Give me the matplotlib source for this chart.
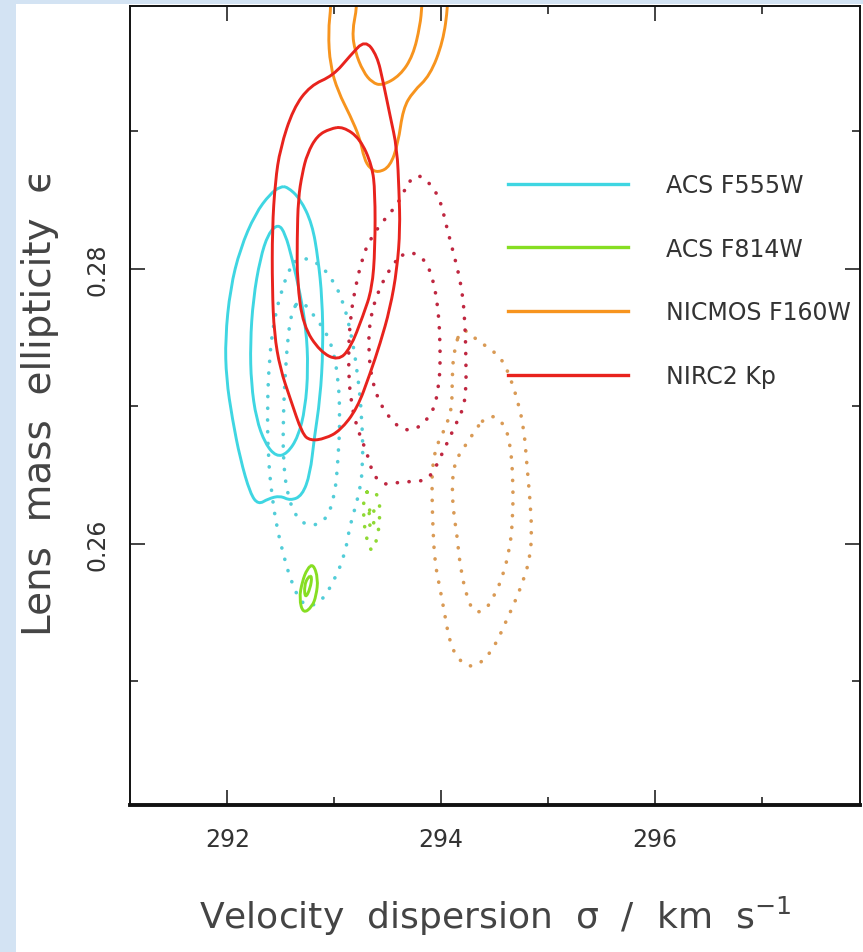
import numpy as np
import matplotlib
matplotlib.use("Agg")
import matplotlib.pyplot as plt
from matplotlib.lines import Line2D
from matplotlib.patches import Rectangle, PathPatch
from matplotlib.path import Path

# contour outlines: sigma (km/s), ellipticity
# ACS F555W
f555_solid_outer_s = [292.561, 292.682, 292.794, 292.850, 292.888, 292.897, 292.869, 292.813, 292.776, 292.701,
                      292.589, 292.495, 292.383, 292.290, 292.215, 292.121, 292.047, 291.991, 291.981, 292.028,
                      292.121, 292.262, 292.402, 292.495]
f555_solid_outer_e = [0.28596, 0.28509, 0.28327, 0.28073, 0.27782, 0.27418, 0.27055, 0.26764, 0.26509, 0.26349,
                      0.26313, 0.26349, 0.26327, 0.26284, 0.26364, 0.26618, 0.26909, 0.27200, 0.27491, 0.27855,
                      0.28145, 0.28400, 0.28545, 0.28596]
f555_solid_inner_s = [292.477, 292.542, 292.607, 292.682, 292.738, 292.757, 292.729, 292.664, 292.561, 292.458,
                      292.355, 292.271, 292.224, 292.215, 292.243, 292.308, 292.383]
f555_solid_inner_e = [0.28327, 0.28255, 0.28073, 0.27818, 0.27564, 0.27273, 0.26982, 0.26778, 0.26655, 0.26633,
                      0.26727, 0.26909, 0.27164, 0.27455, 0.27782, 0.28073, 0.28255]
f555_dot_outer_s = [292.682, 292.850, 292.981, 293.075, 293.150, 293.215, 293.262, 293.271, 293.224, 293.150,
                    293.103, 293.009, 292.888, 292.776, 292.682, 292.589, 292.523, 292.467, 292.421, 292.383,
                    292.374, 292.393, 292.439, 292.514, 292.589]
f555_dot_outer_e = [0.28087, 0.28044, 0.27927, 0.27782, 0.27564, 0.27273, 0.26909, 0.26545, 0.26327, 0.26145,
                    0.25927, 0.25745, 0.25585, 0.25542, 0.25578, 0.25745, 0.25927, 0.26109, 0.26327, 0.26618,
                    0.26982, 0.27345, 0.27636, 0.27855, 0.28015]
f555_dot_inner_s = [292.682, 292.822, 292.963, 293.037, 293.056, 293.037, 293.009, 292.935, 292.804, 292.664,
                    292.570, 292.523, 292.523, 292.542, 292.570, 292.607]
f555_dot_inner_e = [0.27782, 0.27651, 0.27491, 0.27236, 0.26909, 0.26618, 0.26364, 0.26182, 0.26124, 0.26167,
                    0.26327, 0.26582, 0.26909, 0.27236, 0.27527, 0.27695]

# ACS F814W
f814_solid_outer_s = [292.804, 292.850, 292.832, 292.794, 292.710, 292.673, 292.701, 292.748]
f814_solid_outer_e = [0.25855, 0.25745, 0.25622, 0.25542, 0.25491, 0.25600, 0.25724, 0.25818]
f814_solid_inner_s = [292.794, 292.776, 292.729, 292.720, 292.757]
f814_solid_inner_e = [0.25767, 0.25673, 0.25600, 0.25695, 0.25760]
f814_dot_outer_s = [293.336, 293.421, 293.430, 293.402, 293.355, 293.299, 293.271, 293.280]
f814_dot_outer_e = [0.26400, 0.26349, 0.26182, 0.26036, 0.25927, 0.26036, 0.26218, 0.26349]
f814_dot_inner_s = [293.346, 293.383, 293.355, 293.318]
f814_dot_inner_e = [0.26305, 0.26218, 0.26073, 0.26182]

# NICMOS F160W (solid ones run off the top)
f160_solid_outer_s = [292.972, 292.972, 292.944, 292.963, 293.037, 293.150, 293.243, 293.280, 293.336, 293.411,
                      293.523, 293.598, 293.645, 293.738, 293.897, 294.019, 294.065, 294.084, 293.523]
f160_solid_outer_e = [0.30255, 0.29913, 0.29724, 0.29476, 0.29287, 0.29113, 0.28945, 0.28800, 0.28727, 0.28698,
                      0.28742, 0.28909, 0.29164, 0.29287, 0.29404, 0.29651, 0.29913, 0.30255, 0.30545]
f160_solid_inner_s = [293.224, 293.215, 293.168, 293.196, 293.271, 293.355, 293.449, 293.617, 293.738, 293.804,
                      293.822, 293.841]
f160_solid_inner_e = [0.30182, 0.29905, 0.29724, 0.29578, 0.29433, 0.29353, 0.29331, 0.29404, 0.29549, 0.29767,
                      0.29913, 0.30182]
f160_dot_outer_s = [294.196, 294.318, 294.458, 294.570, 294.645, 294.720, 294.776, 294.804, 294.832, 294.850,
                    294.832, 294.766, 294.692, 294.598, 294.523, 294.439, 294.346, 294.252, 294.159, 294.084,
                    294.037, 293.991, 293.944, 293.925, 293.916, 293.916, 293.953, 294.037, 294.103, 294.103,
                    294.121]
f160_dot_outer_e = [0.27578, 0.27491, 0.27418, 0.27345, 0.27215, 0.27033, 0.26836, 0.26567, 0.26327, 0.26087,
                    0.25891, 0.25724, 0.25578, 0.25418, 0.25287, 0.25185, 0.25120, 0.25105, 0.25164, 0.25273,
                    0.25476, 0.25673, 0.25855, 0.26087, 0.26327, 0.26545, 0.26705, 0.26836, 0.26982, 0.27200,
                    0.27418]
f160_dot_inner_s = [294.430, 294.523, 294.598, 294.645, 294.673, 294.673, 294.645, 294.570, 294.505, 294.430,
                    294.318, 294.243, 294.178, 294.150, 294.112, 294.103, 294.131, 294.206, 294.271, 294.346]
f160_dot_inner_e = [0.26924, 0.26924, 0.26851, 0.26742, 0.26495, 0.26204, 0.25964, 0.25745, 0.25636, 0.25527,
                    0.25491, 0.25600, 0.25840, 0.26058, 0.26255, 0.26451, 0.26596, 0.26691, 0.26764, 0.26858]

# NIRC2 Kp
kp_solid_outer_s = [293.290, 293.402, 293.458, 293.523, 293.589, 293.607, 293.617, 293.589, 293.523, 293.430,
                    293.336, 293.215, 293.056, 292.916, 292.776, 292.701, 292.589, 292.495, 292.439, 292.421,
                    292.421, 292.449, 292.495, 292.617, 292.776, 292.991, 293.150]
kp_solid_outer_e = [0.29665, 0.29549, 0.29360, 0.29113, 0.28873, 0.28560, 0.28291, 0.28000, 0.27709, 0.27455,
                    0.27236, 0.26982, 0.26822, 0.26764, 0.26749, 0.26800, 0.27055, 0.27273, 0.27527, 0.27855,
                    0.28291, 0.28633, 0.28873, 0.29164, 0.29331, 0.29404, 0.29549]
kp_solid_inner_s = [293.084, 293.243, 293.355, 293.383, 293.383, 293.355, 293.271, 293.150, 293.037, 292.869,
                    292.710, 292.654, 292.654, 292.664, 292.701, 292.748, 292.841, 292.963]
kp_solid_inner_e = [0.29033, 0.28945, 0.28749, 0.28560, 0.28145, 0.27855, 0.27658, 0.27418, 0.27331, 0.27396,
                    0.27585, 0.27905, 0.28218, 0.28509, 0.28691, 0.28836, 0.28967, 0.29018]
kp_dot_outer_s = [293.757, 293.879, 293.991, 294.056, 294.131, 294.196, 294.224, 294.234, 294.234, 294.206,
                  294.150, 294.084, 294.019, 293.897, 293.776, 293.617, 293.477, 293.364, 293.318, 293.215,
                  293.150, 293.131, 293.150, 293.196, 293.262, 293.336, 293.477, 293.598, 293.664]
kp_dot_outer_e = [0.28691, 0.28640, 0.28509, 0.28291, 0.28073, 0.27855, 0.27615, 0.27324, 0.27105, 0.26982,
                  0.26887, 0.26778, 0.26669, 0.26473, 0.26451, 0.26451, 0.26422, 0.26495, 0.26640, 0.26836,
                  0.27055, 0.27345, 0.27636, 0.27855, 0.28073, 0.28218, 0.28364, 0.28473, 0.28582]
kp_dot_inner_s = [293.692, 293.804, 293.879, 293.935, 293.972, 293.991, 293.991, 293.972, 293.944, 293.879,
                  293.776, 293.645, 293.523, 293.430, 293.355, 293.318, 293.336, 293.402, 293.495, 293.589]
kp_dot_inner_e = [0.28124, 0.28095, 0.28022, 0.27891, 0.27709, 0.27491, 0.27251, 0.27127, 0.27004, 0.26909,
                  0.26836, 0.26822, 0.26909, 0.27018, 0.27178, 0.27418, 0.27636, 0.27818, 0.27964, 0.28073]

labels = ["ACS F555W", "ACS F814W", "NICMOS F160W", "NIRC2 Kp"]
colors = ["#3fd6e2", "#86de22", "#f7941e", "#e8231d"]
dot_colors = ["#52cdd8", "#8fd934", "#d99a55", "#bf2740"]

x_ticks = [292, 294, 296]
y_ticks = [0.26, 0.28]


def smooth_loop(s, e):
    # closed quadratic bezier loop: read points are control points, midpoints are anchors
    pts = np.column_stack([s, e])
    mids = (pts + np.roll(pts, -1, axis=0)) / 2
    verts = [mids[-1]]
    codes = [Path.MOVETO]
    for i in range(len(pts)):
        verts += [pts[i], mids[i]]
        codes += [Path.CURVE3, Path.CURVE3]
    return Path(verts, codes)


def draw(ax, s, e, color, dotted=False):
    p = PathPatch(smooth_loop(s, e), fill=False, edgecolor=color)
    if dotted:
        p.set_linewidth(2.6)
        p.set_linestyle((0, (0.05, 3.2)))
        p.set_capstyle("round")
    else:
        p.set_linewidth(2.1)
        p.set_joinstyle("round")
    ax.add_patch(p)


fig = plt.figure(figsize=(8.63, 9.53), dpi=100, facecolor="#d3e3f3")
# white slide panel behind the plot
fig.patches.append(Rectangle((16 / 863, 0), 1, 1 - 5 / 953, transform=fig.transFigure,
                             facecolor="white", edgecolor="none", zorder=-10))
ax = fig.add_axes([130 / 863, 147 / 953, 730 / 863, 799 / 953])
ax.set_zorder(5)
ax.patch.set_alpha(0)

contours = [
    (f555_solid_outer_s, f555_solid_outer_e, 0, False), (f555_solid_inner_s, f555_solid_inner_e, 0, False),
    (f555_dot_outer_s, f555_dot_outer_e, 0, True), (f555_dot_inner_s, f555_dot_inner_e, 0, True),
    (f814_solid_outer_s, f814_solid_outer_e, 1, False), (f814_solid_inner_s, f814_solid_inner_e, 1, False),
    (f814_dot_outer_s, f814_dot_outer_e, 1, True), (f814_dot_inner_s, f814_dot_inner_e, 1, True),
    (f160_dot_outer_s, f160_dot_outer_e, 2, True), (f160_dot_inner_s, f160_dot_inner_e, 2, True),
    (kp_dot_outer_s, kp_dot_outer_e, 3, True), (kp_dot_inner_s, kp_dot_inner_e, 3, True),
    (f160_solid_outer_s, f160_solid_outer_e, 2, False), (f160_solid_inner_s, f160_solid_inner_e, 2, False),
    (kp_solid_outer_s, kp_solid_outer_e, 3, False), (kp_solid_inner_s, kp_solid_inner_e, 3, False),
]
for s, e, i, dotted in contours:
    draw(ax, s, e, dot_colors[i] if dotted else colors[i], dotted)

ax.set_xlim(291.09, 297.92)
ax.set_ylim(0.2410, 0.2991)

ax.set_xticks(x_ticks)
ax.set_xticks([293, 295, 297], minor=True)
ax.set_yticks(y_ticks)
ax.set_yticks([0.25, 0.27, 0.29], minor=True)
ax.set_xticklabels([str(t) for t in x_ticks])
ax.set_yticklabels(["%.2f" % t for t in y_ticks], rotation=90, va="center")
ax.tick_params(which="both", direction="in", top=True, right=True, colors="#222222",
               labelcolor="#333333", labelsize=17, width=1.2)
ax.tick_params(axis="x", which="major", length=11, pad=16)
ax.tick_params(axis="y", which="major", length=11, pad=15)
ax.tick_params(which="minor", length=6)
for side in ["left", "top", "right"]:
    ax.spines[side].set_linewidth(1.4)
    ax.spines[side].set_color("#111111")
ax.spines["bottom"].set_linewidth(2.8)
ax.spines["bottom"].set_color("#111111")

handles = [Line2D([], [], color=c, lw=2.4) for c in colors]
leg = ax.legend(handles, labels, loc="upper left", bbox_to_anchor=(0.505, 0.803), frameon=False,
                fontsize=17, handlelength=5.08, handletextpad=1.6, labelspacing=1.68, borderaxespad=0)
for t in leg.get_texts():
    t.set_color("#333333")

fig.text(40 / 863, 1 - 402 / 953, "Lens  mass  ellipticity  \u03f5", rotation=90, ha="center", va="center",
         fontsize=28, color="#444444")
fig.text(495 / 863, 1 - 916 / 953, "Velocity  dispersion  \u03c3  /  km  s$^{-1}$", ha="center", va="center",
         fontsize=26, color="#444444")

fig.savefig("out.png", dpi=100, facecolor=fig.get_facecolor())
